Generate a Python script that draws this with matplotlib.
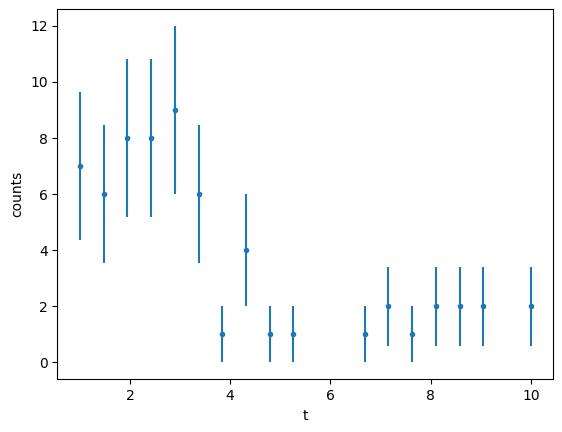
import matplotlib.pyplot as plt
import numpy as np

t = [1.0, 1.474, 1.947, 2.421, 2.895, 3.368, 3.842, 4.316, 4.789, 5.263,
     6.684, 7.158, 7.632, 8.105, 8.579, 9.053, 10.0]
counts = [7, 6, 8, 8, 9, 6, 1, 4, 1, 1, 1, 2, 1, 2, 2, 2, 2]

err = np.sqrt(counts)

plt.switch_backend('AGG')
fig = plt.figure(figsize=(5.62, 4.32), dpi=100)
ax = fig.add_subplot(111)
fig.subplots_adjust(left=0.102, right=0.9846, top=0.979, bottom=0.122)
ax.errorbar(t, counts, yerr=err, fmt='.')
ax.set_xlabel('t')
ax.set_ylabel('counts')
fig.savefig('out.png')
